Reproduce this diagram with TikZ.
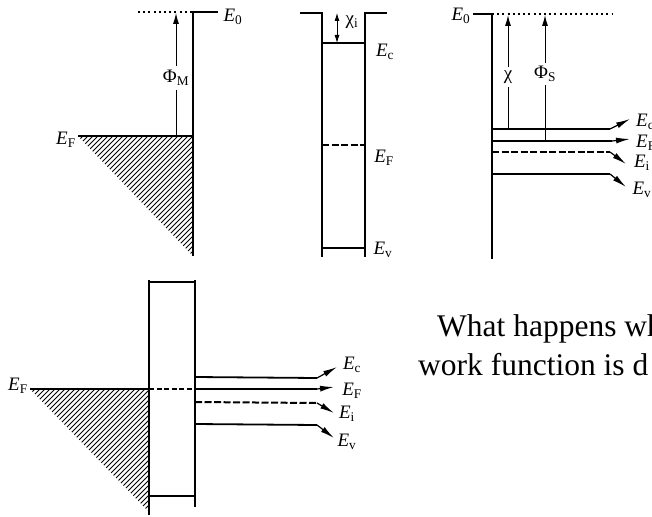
\documentclass[tikz,border=0pt]{standalone}
\usepackage{amsmath}
\usepackage{fontspec}
\setmainfont{Liberation Serif}
\usetikzlibrary{arrows.meta}

\newcommand{\lev}[2]{\textit{#1}\textsubscript{#2}}

\tikzset{
  wall/.style={line width=2.8pt},
  level/.style={line width=1.8pt},
  leveldash/.style={line width=2pt,dash pattern=on 7pt off 2.5pt},
  vacuum/.style={line width=1.2pt,dash pattern=on 2pt off 3.2pt},
  height/.style={line width=1pt,-{Latex[length=11pt,width=6pt]}},
  stem/.style={line width=1pt},
  leader/.style={line width=1.2pt,-{Latex[length=14pt,width=6pt]}},
  hatch/.style={line width=1pt},
  lab/.style={inner sep=0pt,font=\fontsize{19}{19}\selectfont},
  para/.style={inner sep=0pt,font=\fontsize{31.5}{31.5}\selectfont,anchor=base west}
}

\begin{document}
\begin{tikzpicture}[x=1pt,y=-1pt]
\useasboundingbox (0,0) rectangle (652,516);
\clip (0,0) rectangle (652,516);
% metal
\begin{scope}
\clip (78,136) -- (193,136) -- (193,256) -- cycle;
\foreach \c in {214,219,...,450} \draw[hatch] (\c-260,260) -- (\c-130,130);
\end{scope}
\coordinate (mtop) at (193,12);
\coordinate (mbot) at (193,256);
\coordinate (mstub) at (218,12);
\coordinate (mdot) at (138,12);
\coordinate (mfermi) at (78,136);
\coordinate (mfoot) at (176,136);
\coordinate (mhead) at (176,13);
\coordinate (mwall) at (193,136);
\draw[wall] (mstub) -- (mtop) -- (mbot);
\draw[vacuum] (mdot) -- (mtop);
\draw[level] (mfermi) -- (mwall);
\node[lab,fill=white,inner xsep=1pt,inner ysep=4pt] (phim) at (176,78) {Φ\textsubscript{M}};
\draw[stem] (mfoot) -- (phim);
\draw[height] (phim) -- (mhead);
\node[lab] (mezero) at (233,17) {\lev{E}{0}};
\node[lab] (mef) at (66,140) {\lev{E}{F}};

% insulator
\coordinate (il) at (322,13);
\coordinate (ir) at (365,13);
\draw[wall] (300,13) -- (il) -- (322,257);
\draw[wall] (387,13) -- (ir) -- (365,257);
\coordinate (icl) at (322,43);
\coordinate (icr) at (365,43);
\coordinate (ifl) at (322,145);
\coordinate (ifr) at (365,145);
\coordinate (ivl) at (322,248);
\coordinate (ivr) at (365,248);
\draw[level] (icl) -- (icr);
\draw[leveldash] (ifl) -- (ifr);
\draw[level] (ivl) -- (ivr);
\coordinate (chia) at (337,13);
\coordinate (chib) at (337,43);
\draw[line width=0.8pt,{Latex[length=8pt,width=5pt]}-{Latex[length=8pt,width=5pt]}] (chia) -- (chib);
\node[lab] (chii) at (352,22) {χ\textsubscript{i}};
\node[lab] (iec) at (385,52) {\lev{E}{c}};
\node[lab] (ief) at (384,158) {\lev{E}{F}};
\node[lab] (iev) at (383,250) {\lev{E}{v}};

% semiconductor
\coordinate (stop) at (492,14);
\draw[wall] (473,14) -- (stop) -- (492,259);
\draw[vacuum] (stop) -- (612,14);
\coordinate (sc) at (492,129);
\coordinate (sf) at (492,141);
\coordinate (si) at (492,152);
\coordinate (sv) at (492,174);
\draw[level] (sc) -- (610,129);
\draw[level] (sf) -- (612,141);
\draw[leveldash] (si) -- (610,152);
\draw[level] (sv) -- (610,174);
\draw[leader] (610,129) -- (630,119);
\draw[leader] (612,141) -- (630,139);
\draw[leader] (610,152) -- (626,164);
\draw[leader] (610,174) -- (626,187);
\node[lab,fill=white,inner xsep=1pt,inner ysep=3pt] (chis) at (508,77) {χ};
\draw[stem] (508,129) -- (chis);
\draw[height] (chis) -- (508,15);
\node[lab,fill=white,inner xsep=1pt,inner ysep=3pt] (phis) at (545,74) {Φ\textsubscript{S}};
\draw[stem] (545,141) -- (phis);
\draw[height] (phis) -- (545,15);
\node[lab] (sezero) at (461,16) {\lev{E}{0}};
\node[lab,anchor=west] (sec) at (636,122) {\lev{E}{c}};
\node[lab,anchor=west] (sef) at (636,143) {\lev{E}{F}};
\node[lab] (sei) at (642,163) {\lev{E}{i}};
\node[lab] (sev) at (642,190) {\lev{E}{v}};

% junction
\begin{scope}
\clip (30,389) -- (149,389) -- (149,512) -- cycle;
\foreach \c in {419,424,...,662} \draw[hatch] (\c-520,520) -- (\c-380,380);
\end{scope}
\coordinate (jl) at (149,282);
\coordinate (jr) at (195,282);
\draw[wall] (149,280) -- (149,515);
\draw[wall] (195,280) -- (195,507);
\draw[line width=1.8pt] (jl) -- (jr);
\draw[line width=1.8pt] (149,496) -- (195,496);
\draw[level] (30,389) -- (149,389);
\draw[line width=1.2pt,dash pattern=on 5pt off 2.5pt] (149,389) -- (195,389);
\draw[level] (195,377) -- (317,378);
\draw[level] (195,389) -- (317,389);
\draw[leveldash] (195,402) -- (317,403);
\draw[level] (195,424) -- (317,425);
\draw[leader] (317,378) -- (337,367);
\draw[leader] (317,389) -- (334,387);
\draw[leader] (317,403) -- (334,413);
\draw[leader] (317,425) -- (334,438);
\node[lab] (jel) at (18,386) {\lev{E}{F}};
\node[lab] (jec) at (352,365) {\lev{E}{c}};
\node[lab] (jef) at (352,391) {\lev{E}{F}};
\node[lab] (jei) at (347,414) {\lev{E}{i}};
\node[lab] (jev) at (347,442) {\lev{E}{v}};

\node[para] (lineone) at (437,336) {What happens wh};
\node[para] (linetwo) at (418,375) {work function is d};
\end{tikzpicture}
\end{document}
